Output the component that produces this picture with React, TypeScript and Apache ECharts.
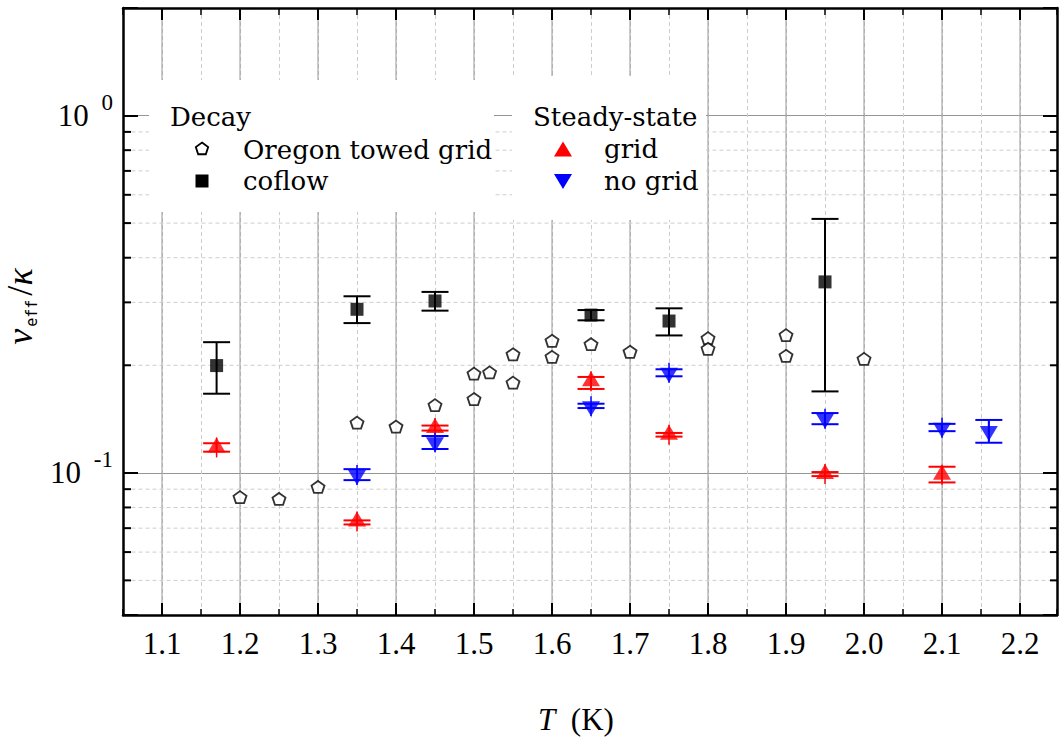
import React, { useEffect, useRef } from 'react';
import * as echarts from 'echarts';

// Decay behind a towed grid (Oregon): temperature T (K) and nu_eff / kappa
const oregonT = [1.2, 1.25, 1.3, 1.35, 1.4, 1.45, 1.5, 1.5, 1.52, 1.55, 1.55, 1.6, 1.6, 1.65, 1.7, 1.8, 1.8, 1.9, 1.9, 2.0];
const oregonNu = [0.0855, 0.0845, 0.0913, 0.1382, 0.1347, 0.1547, 0.1609, 0.1895, 0.191, 0.1788, 0.2147, 0.2112, 0.2342, 0.2291, 0.2182, 0.2382, 0.2224, 0.2429, 0.2126, 0.2084];

// Decay in coflow, with lower / upper error bounds
const coflowT = [1.17, 1.35, 1.45, 1.65, 1.75, 1.95];
const coflowNu = [0.1996, 0.2869, 0.3027, 0.2764, 0.266, 0.3423];
const coflowLo = [0.1665, 0.2625, 0.2844, 0.2672, 0.2424, 0.169];
const coflowHi = [0.2321, 0.312, 0.3209, 0.2855, 0.2887, 0.5137];

// Steady state with grid
const gridT = [1.17, 1.35, 1.45, 1.65, 1.75, 1.95, 2.1];
const gridNu = [0.1178, 0.0731, 0.1334, 0.1805, 0.1278, 0.0992, 0.0988];
const gridLo = [0.1146, 0.0717, 0.1313, 0.1717, 0.1263, 0.0979, 0.094];
const gridHi = [0.121, 0.0736, 0.1356, 0.1855, 0.1293, 0.1005, 0.104];

// Steady state without grid
const noGridT = [1.35, 1.45, 1.65, 1.75, 1.95, 2.1, 2.16];
const noGridNu = [0.0986, 0.1217, 0.1537, 0.1905, 0.1418, 0.1338, 0.131];
const noGridLo = [0.0954, 0.1166, 0.1518, 0.1863, 0.1368, 0.1308, 0.1214];
const noGridHi = [0.1024, 0.1268, 0.1561, 0.1949, 0.147, 0.1371, 0.1406];

// Axis ranges and tick positions
const X_MIN = 1.05;
const X_MAX = 2.2474;
const Y_MIN = 0.04;
const Y_MAX = 2;
const xMajorTicks = [1.1, 1.2, 1.3, 1.4, 1.5, 1.6, 1.7, 1.8, 1.9, 2.0, 2.1, 2.2];
const yMinorTicks = [0.05, 0.06, 0.07, 0.08, 0.09, 0.2, 0.3, 0.4, 0.5, 0.6, 0.7, 0.8, 0.9];

const SERIF = 'Liberation Serif';
const LEGEND_FONT = 'DejaVu Serif';
const MONO = 'DejaVu Sans Mono';
const FS = 31;
const LEGEND_FS = 26;

const PENTAGON = 'path://M0,-1L0.951,-0.309L0.588,0.809L-0.588,0.809L-0.951,-0.309Z';
const DOWN_TRIANGLE = 'path://M0,0L2,0L1,2Z';

const RED = '#ff0000';
const BLUE = '#0000ff';

function pentagonPoints(cx: number, cy: number, r: number): number[][] {
  const pts: number[][] = [];
  for (let k = 0; k < 5; k++) {
    const a = -Math.PI / 2 + (k * 2 * Math.PI) / 5;
    pts.push([cx + r * Math.cos(a), cy + r * Math.sin(a)]);
  }
  return pts;
}

function errorBars(name: string, T: number[], nu: number[], lo: number[], hi: number[], color: string, stem: boolean) {
  return {
    type: 'custom',
    name,
    z: 3,
    silent: true,
    xAxisIndex: 0,
    yAxisIndex: 0,
    encode: { x: 0, y: [1, 2, 3] },
    data: T.map((t, i) => [t, lo[i], hi[i], nu[i]]),
    renderItem: (params: any, api: any) => {
      const t = api.value(0);
      const pLo = api.coord([t, api.value(1)]);
      const pHi = api.coord([t, api.value(2)]);
      const pC = api.coord([t, api.value(3)]);
      const half = 13.5;
      const style = { stroke: color, lineWidth: 2 };
      const children: any[] = [
        { type: 'line', shape: { x1: pLo[0], y1: pLo[1], x2: pHi[0], y2: pHi[1] }, style },
        { type: 'line', shape: { x1: pLo[0] - half, y1: pLo[1], x2: pLo[0] + half, y2: pLo[1] }, style },
        { type: 'line', shape: { x1: pHi[0] - half, y1: pHi[1], x2: pHi[0] + half, y2: pHi[1] }, style },
      ];
      if (stem) {
        children.push({ type: 'line', shape: { x1: pC[0], y1: pC[1] - 10, x2: pC[0], y2: pC[1] + 10 }, style: { stroke: color, lineWidth: 1.5 } });
      }
      return { type: 'group', children };
    },
  };
}

function buildOption(): any {
  const xLabel = (v: number) => {
    const k = Math.round(v * 100);
    return k % 10 === 0 ? (k / 100).toFixed(1) : '';
  };
  const yLabel = (v: number) => {
    const l = Math.log10(v);
    const e = Math.round(l);
    if (Math.abs(l - e) > 1e-6) return '';
    return `{b|10} {s|${e}}`;
  };

  const tickStyle = { color: '#000', width: 2 };
  const axisLineStyle = { color: '#000', width: 2.5 };

  const legendZ = 10;
  const textStyle = (text: string) => ({ text, fill: '#000', fontSize: LEGEND_FS, fontFamily: LEGEND_FONT, align: 'left', verticalAlign: 'middle' });

  return {
    animation: false,
    backgroundColor: '#fff',
    textStyle: { fontFamily: SERIF },
    grid: { left: 123, right: 2, top: 8, bottom: 122, containLabel: false, outerBoundsMode: 'none' },
    xAxis: [
      {
        type: 'value',
        position: 'bottom',
        min: X_MIN,
        max: X_MAX,
        interval: 0.05,
        axisLine: { show: true, onZero: false, lineStyle: axisLineStyle },
        axisTick: { show: true, inside: true, length: 6, lineStyle: { color: '#000', width: 1.5 } },
        axisLabel: { formatter: xLabel, fontSize: FS, fontFamily: SERIF, color: '#000', margin: 13 },
        splitLine: { show: true, lineStyle: { color: '#cdcdcd', width: 1, type: [4, 3] } },
        name: '{it|T}  (K)',
        nameLocation: 'middle',
        nameGap: 89,
        nameTextStyle: {
          fontSize: FS,
          fontFamily: SERIF,
          color: '#000',
          padding: [0, 28, 0, 0],
          rich: { it: { fontSize: FS, fontFamily: SERIF, fontStyle: 'italic', color: '#000' } },
        },
      },
      {
        type: 'value',
        position: 'top',
        min: X_MIN,
        max: X_MAX,
        interval: 0.05,
        axisLine: { show: true, onZero: false, lineStyle: axisLineStyle },
        axisTick: { show: true, inside: true, length: 7, lineStyle: { color: '#000', width: 1.5 } },
        axisLabel: { show: false },
        splitLine: { show: false },
      },
    ],
    yAxis: [
      {
        type: 'log',
        logBase: 10,
        position: 'left',
        min: Y_MIN,
        max: Y_MAX,
        axisLine: { show: true, onZero: false, lineStyle: axisLineStyle },
        axisTick: { show: true, inside: true, length: 15, lineStyle: tickStyle },
        axisLabel: {
          formatter: yLabel,
          fontSize: FS,
          fontFamily: SERIF,
          color: '#000',
          margin: 10,
          rich: {
            b: { fontSize: FS, fontFamily: SERIF, color: '#000' },
            s: { fontSize: 23, fontFamily: SERIF, color: '#000', padding: [0, 0, 26, 5] },
          },
        },
        splitLine: { show: true, lineStyle: { color: '#969696', width: 1 } },
        name: '{i|ν}{sub|eff}{n|/}{i|κ}',
        nameLocation: 'middle',
        nameRotate: 90,
        nameGap: 79,
        nameTextStyle: {
          fontSize: 36,
          fontFamily: SERIF,
          color: '#000',
          padding: [0, 0, 0, 10],
          rich: {
            i: { fontSize: 36, fontFamily: SERIF, fontStyle: 'italic', color: '#000' },
            sub: { fontSize: 15, fontFamily: MONO, color: '#000', padding: [24, 4, 0, 2] },
            n: { fontSize: 36, fontFamily: SERIF, color: '#000' },
          },
        },
      },
      {
        type: 'log',
        logBase: 10,
        position: 'right',
        min: Y_MIN,
        max: Y_MAX,
        axisLine: { show: true, onZero: false, lineStyle: axisLineStyle },
        axisTick: { show: true, inside: true, length: 14, lineStyle: tickStyle },
        axisLabel: { show: false },
        splitLine: { show: false },
      },
    ],
    series: [
      {
        // solid grid lines and long ticks at the labelled temperatures
        type: 'custom',
        name: 'major-x',
        z: 1,
        silent: true,
        xAxisIndex: 0,
        yAxisIndex: 0,
        data: xMajorTicks.map((t) => [t, 1]),
        renderItem: (params: any, api: any) => {
          const cs = params.coordSys;
          const x = api.coord([api.value(0), 1])[0];
          const top = cs.y;
          const bottom = cs.y + cs.height;
          return {
            type: 'group',
            children: [
              { type: 'line', shape: { x1: x, y1: top + 1.5, x2: x, y2: bottom - 1.5 }, style: { stroke: '#969696', lineWidth: 1 } },
              { type: 'line', shape: { x1: x, y1: bottom, x2: x, y2: bottom - 12 }, style: { stroke: '#000', lineWidth: 2 } },
              { type: 'line', shape: { x1: x, y1: top, x2: x, y2: top + 12 }, style: { stroke: '#000', lineWidth: 2 } },
            ],
          };
        },
      },
      {
        // dashed grid lines and short ticks between the decades
        type: 'custom',
        name: 'minor-y',
        z: 1,
        silent: true,
        xAxisIndex: 0,
        yAxisIndex: 0,
        data: yMinorTicks.map((v) => [1.5, v]),
        renderItem: (params: any, api: any) => {
          const cs = params.coordSys;
          const y = api.coord([1.5, api.value(1)])[1];
          const left = cs.x;
          const right = cs.x + cs.width;
          return {
            type: 'group',
            children: [
              { type: 'line', shape: { x1: left + 1.5, y1: y, x2: right - 1.5, y2: y }, style: { stroke: '#cdcdcd', lineWidth: 1, lineDash: [4, 3] } },
              { type: 'line', shape: { x1: left, y1: y, x2: left + 8, y2: y }, style: { stroke: '#000', lineWidth: 2 } },
              { type: 'line', shape: { x1: right - 7, y1: y, x2: right, y2: y }, style: { stroke: '#000', lineWidth: 2 } },
            ],
          };
        },
      },
      errorBars('coflow-err', coflowT, coflowNu, coflowLo, coflowHi, '#000', false),
      errorBars('grid-err', gridT, gridNu, gridLo, gridHi, RED, true),
      errorBars('no-grid-err', noGridT, noGridNu, noGridLo, noGridHi, BLUE, true),
      {
        type: 'scatter',
        name: 'Oregon towed grid',
        z: 4,
        data: oregonT.map((t, i) => [t, oregonNu[i]]),
        symbol: PENTAGON,
        symbolSize: [13, 12],
        itemStyle: { color: '#fff', borderColor: '#000', borderWidth: 1.8 },
        emphasis: { disabled: true },
      },
      {
        type: 'scatter',
        name: 'coflow',
        z: 4,
        data: coflowT.map((t, i) => [t, coflowNu[i]]),
        symbol: 'rect',
        symbolSize: 13,
        itemStyle: { color: '#000' },
        emphasis: { disabled: true },
      },
      {
        type: 'scatter',
        name: 'grid',
        z: 4,
        data: gridT.map((t, i) => [t, gridNu[i]]),
        symbol: 'triangle',
        symbolSize: [18, 15],
        symbolOffset: [0, -2.5],
        itemStyle: { color: RED },
        emphasis: { disabled: true },
      },
      {
        type: 'scatter',
        name: 'no grid',
        z: 4,
        data: noGridT.map((t, i) => [t, noGridNu[i]]),
        symbol: DOWN_TRIANGLE,
        symbolSize: [18, 15],
        symbolOffset: [0, 2.5],
        itemStyle: { color: BLUE },
        emphasis: { disabled: true },
      },
    ],
    graphic: [
      // legend: decay measurements
      { type: 'rect', z: legendZ, shape: { x: 149, y: 80, width: 345, height: 132 }, style: { fill: '#fff' } },
      { type: 'text', z: legendZ + 1, x: 170, y: 117, style: textStyle('Decay') },
      { type: 'polygon', z: legendZ + 1, shape: { points: pentagonPoints(202, 149, 6.5) }, style: { fill: '#fff', stroke: '#000', lineWidth: 1.8 } },
      { type: 'text', z: legendZ + 1, x: 243, y: 150, style: textStyle('Oregon towed grid') },
      { type: 'rect', z: legendZ + 1, shape: { x: 195.5, y: 174.5, width: 13, height: 13 }, style: { fill: '#000' } },
      { type: 'text', z: legendZ + 1, x: 243, y: 181, style: textStyle('coflow') },
      // legend: steady-state measurements
      { type: 'rect', z: legendZ, shape: { x: 512, y: 76, width: 194, height: 144 }, style: { fill: '#fff' } },
      { type: 'text', z: legendZ + 1, x: 533, y: 117, style: textStyle('Steady-state') },
      { type: 'polygon', z: legendZ + 1, shape: { points: [[563, 141.5], [572, 156.5], [554, 156.5]] }, style: { fill: RED } },
      { type: 'text', z: legendZ + 1, x: 604, y: 149, style: textStyle('grid') },
      { type: 'polygon', z: legendZ + 1, shape: { points: [[554, 174], [572, 174], [563, 189]] }, style: { fill: BLUE } },
      { type: 'text', z: legendZ + 1, x: 604, y: 181, style: textStyle('no grid') },
    ],
  };
}

export default function App() {
  const ref = useRef<HTMLDivElement>(null);
  useEffect(() => {
    if (!ref.current) return;
    const chart = echarts.init(ref.current, undefined, { renderer: 'svg' });
    chart.setOption(buildOption());
    return () => chart.dispose();
  }, []);
  return <div ref={ref} style={{ position: 'fixed', left: 0, top: 0, width: 1059, height: 737, background: '#fff' }} />;
}
